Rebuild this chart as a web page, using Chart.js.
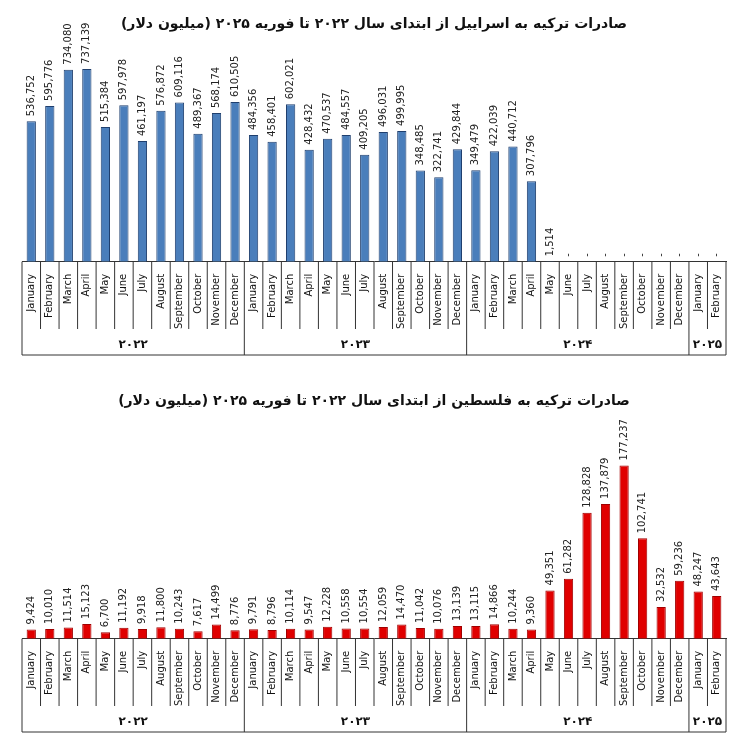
<!DOCTYPE html>
<html>
<head>
<meta charset="utf-8">
<style>
  body { margin:0; background:#fff; }
  .box { width:740px; height:377px; position:relative; }
</style>
</head>
<body>
<div class="box"><canvas id="israelChart"></canvas></div>
<div class="box"><canvas id="palestineChart"></canvas></div>
<script src="https://cdn.jsdelivr.net/npm/chart.js"></script>
<script>
  const months = ['January','February','March','April','May','June','July','August','September','October','November','December'];
  const labels = [...months, ...months, ...months, 'January', 'February'];
  const years = [
    { text: '۲۰۲۲', count: 12 },
    { text: '۲۰۲۳', count: 12 },
    { text: '۲۰۲۴', count: 12 },
    { text: '۲۰۲۵', count: 2 }
  ];
  // صادرات به اسرائیل (دلار)
  const israelValues = [
    536752, 595776, 734080, 737139, 515384, 597978, 461197, 576872, 609116, 489367, 568174, 610505,
    484356, 458401, 602021, 428432, 470537, 484557, 409205, 496031, 499995, 348485, 322741, 429844,
    349479, 422039, 440712, 307796, 1514, 0, 0, 0, 0, 0, 0, 0,
    0, 0
  ];
  // صادرات به فلسطین (دلار)
  const palestineValues = [
    9424, 10010, 11514, 15123, 6700, 11192, 9918, 11800, 10243, 7617, 14499, 8776,
    9791, 8796, 10114, 9547, 12228, 10558, 10554, 12059, 14470, 11042, 10076, 13139,
    13115, 14866, 10244, 9360, 49351, 61282, 128828, 137879, 177237, 102741, 32532, 59236,
    48247, 43643
  ];

  const fmt = v => v === 0 ? '-' : v.toLocaleString('en-US');

  // اعداد عمودی بالای میله‌ها
  const valueLabels = {
    id: 'valueLabels',
    afterDatasetsDraw(chart) {
      const ctx = chart.ctx;
      const meta = chart.getDatasetMeta(0);
      ctx.save();
      ctx.font = '10px "DejaVu Sans", sans-serif';
      ctx.fillStyle = '#222';
      ctx.textBaseline = 'middle';
      meta.data.forEach((bar, i) => {
        const v = chart.data.datasets[0].data[i];
        ctx.save();
        ctx.translate(bar.x, bar.y - 5);
        ctx.rotate(-Math.PI / 2);
        ctx.textAlign = 'left';
        ctx.fillText(fmt(v), 0, 0);
        ctx.restore();
      });
      ctx.restore();
    }
  };

  // خطوط جدول و سال‌ها زیر محور
  const yearGroups = {
    id: 'yearGroups',
    afterDraw(chart) {
      const ctx = chart.ctx;
      const x = chart.scales.x;
      const step = x.getPixelForValue(1) - x.getPixelForValue(0);
      const top = chart.chartArea.bottom;
      const colBottom = x.bottom - 4;
      const lineY = chart.height - 22;
      ctx.save();
      ctx.strokeStyle = '#333';
      ctx.lineWidth = 1;
      ctx.beginPath();
      for (let i = 0; i <= labels.length; i++) {
        const px = x.getPixelForValue(i) - step / 2;
        ctx.moveTo(px, top);
        ctx.lineTo(px, colBottom);
      }
      ctx.moveTo(x.getPixelForValue(0) - step / 2, lineY);
      ctx.lineTo(x.getPixelForValue(labels.length - 1) + step / 2, lineY);
      ctx.stroke();
      let idx = 0;
      ctx.font = 'bold 12px "DejaVu Sans", sans-serif';
      ctx.fillStyle = '#111';
      ctx.textAlign = 'center';
      ctx.textBaseline = 'middle';
      years.forEach((y, k) => {
        const left = x.getPixelForValue(idx) - step / 2;
        const right = x.getPixelForValue(idx + y.count - 1) + step / 2;
        ctx.beginPath();
        ctx.moveTo(left, colBottom);
        ctx.lineTo(left, lineY);
        if (k === years.length - 1) { ctx.moveTo(right, colBottom); ctx.lineTo(right, lineY); }
        ctx.stroke();
        ctx.fillText(y.text, (left + right) / 2, lineY - 10);
        idx += y.count;
      });
      ctx.restore();
    }
  };

  function makeChart(id, title, values, max, color, border) {
    return new Chart(document.getElementById(id), {
      type: 'bar',
      data: {
        labels: labels,
        datasets: [{
          data: values,
          backgroundColor: color,
          borderColor: border,
          borderWidth: 1,
          barPercentage: 0.5,
          categoryPercentage: 1
        }]
      },
      options: {
        responsive: true,
        maintainAspectRatio: false,
        animation: false,
        layout: { padding: { left: 22, right: 14, bottom: 44, top: 4 } },
        plugins: {
          legend: { display: false },
          tooltip: { enabled: false },
          title: {
            display: true,
            text: title,
            font: { size: 14, weight: 'bold', family: '"DejaVu Sans", sans-serif' },
            color: '#111',
            padding: { top: 12, bottom: 4 }
          }
        },
        scales: {
          x: {
            offset: true,
            grid: { display: false },
            border: { color: '#333' },
            ticks: {
              minRotation: 90, maxRotation: 90, autoSkip: false,
              padding: 4,
              color: '#111',
              font: { size: 10, family: '"DejaVu Sans", sans-serif' }
            }
          },
          y: { display: false, min: 0, max: max }
        }
      },
      plugins: [valueLabels, yearGroups]
    });
  }

  makeChart('israelChart', 'صادرات ترکیه به اسراییل از ابتدای سال ۲۰۲۲ تا فوریه ۲۰۲۵ (میلیون دلار)',
    israelValues, 860000, '#4a7ebb', '#1f3f6e');
  makeChart('palestineChart', 'صادرات ترکیه به فلسطین از ابتدای سال ۲۰۲۲ تا فوریه ۲۰۲۵ (میلیون دلار)',
    palestineValues, 230000, '#e00000', '#a00000');
</script>
</body>
</html>
